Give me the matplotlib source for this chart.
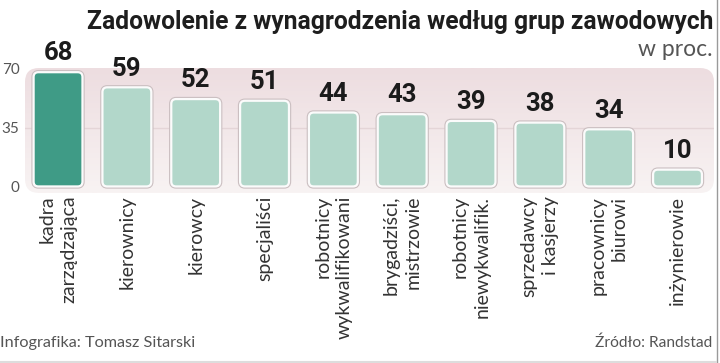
import matplotlib
matplotlib.use('Agg')
import matplotlib.pyplot as plt
import numpy as np
from matplotlib.patches import FancyBboxPatch
from matplotlib.colors import LinearSegmentedColormap

# dane
categories = ['kadra\nzarządzająca', 'kierownicy', 'kierowcy', 'specjaliści',
              'robotnicy\nwykwalifikowani', 'brygadziści,\nmistrzowie',
              'robotnicy\nniewykwalifik.', 'sprzedawcy\ni kasjerzy',
              'pracownicy\nbiurowi', 'inżynierowie']
values = [68, 59, 52, 51, 44, 43, 39, 38, 34, 10]
yticks = [0, 35, 70]

title = 'Zadowolenie z wynagrodzenia według grup zawodowych'
unit = 'w proc.'
credit = 'Infografika: Tomasz Sitarski'
source = 'Źródło: Randstad'

bold = ['Roboto', 'DejaVu Sans']
light = ['Lato', 'DejaVu Sans']

W, H = 720, 363
fig = plt.figure(figsize=(W / 100, H / 100), dpi=100)

# tło w pikselach
bg = fig.add_axes([0, 0, 1, 1])
bg.set_xlim(0, W)
bg.set_ylim(H, 0)
bg.axis('off')

# panel z gradientem
px0, px1, py0, py1 = 25, 714, 68, 193
panel = FancyBboxPatch((px0, py0), px1 - px0, py1 - py0,
                       boxstyle='round,pad=0,rounding_size=14',
                       facecolor='none', edgecolor='none')
bg.add_patch(panel)
cmap = LinearSegmentedColormap.from_list('pan', ['#eddde0', '#f8f3f3'])
grad = np.linspace(0, 1, 100).reshape(-1, 1)
im = bg.imshow(grad, cmap=cmap, extent=(px0, px1, py1, py0), aspect='auto', zorder=0)
im.set_clip_path(panel)

# ramka po prawej i na dole
bg.plot([716.5, 716.5], [0, H], color='#9a9a9a', lw=1)
bg.plot([0, 716], [361.5, 361.5], color='#dddddd', lw=1.5)

# wykres
ax = fig.add_axes([px0 / W, 1 - py1 / H, (px1 - px0) / W, (py1 - py0) / H])
ax.patch.set_alpha(0)
ax.set_xlim(-0.48, 9.53)
ax.set_ylim(-3.9, 70.5)
for s in ax.spines.values():
    s.set_visible(False)

ax.axhline(35, color='#e4d5d7', lw=1, zorder=1)

x = np.arange(len(values))
bars = ax.bar(x, values, width=0.71)
colors = ['#3f9b86'] + ['#b2d7ca'] * (len(values) - 1)
# zaokrąglone słupki zamiast prostokątów
asp = (1 / 1.68) / (1 / 68.9)
for b, c, v in zip(bars, colors, values):
    bx, bw, bh = b.get_x(), b.get_width(), b.get_height()
    b.remove()
    shadow = FancyBboxPatch((bx, 0), bw, bh, boxstyle='round,pad=0,rounding_size=0.07',
                            mutation_aspect=asp, facecolor='none',
                            edgecolor='#cbbfc1', lw=3.2, zorder=2)
    ax.add_patch(shadow)
    p = FancyBboxPatch((bx, 0), bw, bh, boxstyle='round,pad=0,rounding_size=0.07',
                       mutation_aspect=asp, facecolor=c,
                       edgecolor='#fbfbfb', lw=1.6, zorder=3)
    ax.add_patch(p)
    ax.text(bx + bw / 2, bh + 4, str(v), ha='center', va='bottom',
            fontsize=18.5, fontweight='bold', family=bold, color='#1b1b1b')

ax.set_yticks(yticks)
ax.set_yticklabels([str(t) for t in yticks], family=light, fontsize=11, color='#555555')
ax.tick_params(axis='y', length=0, pad=4)
ax.set_xticks(x)
ax.set_xticklabels(categories, rotation=90, family=light, fontsize=14,
                   color='#333333', ha='center', va='top', multialignment='right',
                   linespacing=1.3)
ax.tick_params(axis='x', length=0, pad=2)

t = fig.text(713 / W, 1 - 22 / H, title, ha='right', va='center', fontsize=18,
             fontweight='bold', family=bold, color='#1e1e1e')
# dopasuj tytuł do szerokości (od x=85 do x=713)
fig.canvas.draw()
tw = t.get_window_extent().width
t.set_fontsize(18 * 628 / tw)

fig.text(713 / W, 1 - 49 / H, unit, ha='right', va='center', fontsize=16.5,
         family=light, color='#555555')
fig.text(0, 1 - 343 / H, credit, ha='left', va='center', fontsize=11.7,
         family=light, color='#555555')
fig.text(712 / W, 1 - 343 / H, source, ha='right', va='center', fontsize=11.2,
         family=light, color='#555555')

fig.savefig('out.png', dpi=100)
